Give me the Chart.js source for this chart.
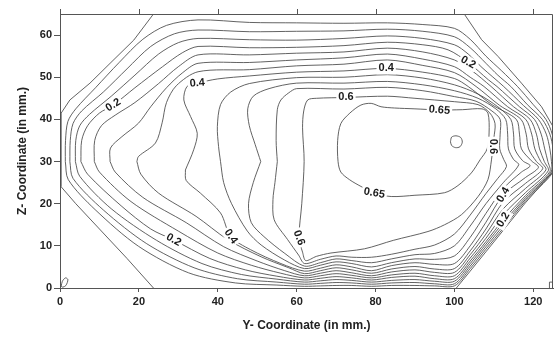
<!DOCTYPE html>
<html>
<head>
<meta charset="utf-8">
<script src="https://cdn.jsdelivr.net/npm/chart.js@4.4.1/dist/chart.umd.min.js"></script>
<style>
  body { margin: 0; background: #fff; }
  #wrap { width: 554px; height: 337px; }
</style>
</head>
<body>
<div id="wrap"><canvas id="contour" width="554" height="337"></canvas></div>
<script>
// contour lines, [y, z] in mm
var edgeLeft = [[23.7,0],[17,7],[10,14],[4,20],[0.3,24],[0.3,41.5],[2.5,44.6],[7.6,48.6],[12.7,53.3],[18.7,58.8],[23.7,65]];
var edgeTopRight = [[102.5,65],[106.9,58.9],[111.1,54.9],[117,48.6],[122.1,43],[125.5,37.5]];
var edgeBottomRight = [[100.5,0],[104,4],[108,8.6],[112.4,13.7],[118,20.2],[124.6,27.2],[125.5,28]];

var lvl005 = [[1.35,30],[1.4,35],[2,39.5],[4,42.5],[9,47.5],[15,53.5],[21,59],[27,62.3],[35,63.6],[48,63.0],[60,62.9],[72,62.8],[83,62.9],[92,62.5],[100,61.6],[104,59],[108,55],[112,51.5],[116,47.8],[120,43.5],[123.2,40],[124.8,36.5],[125.3,33],[125.2,30],[124.9,27.3],[118,20.6],[112.4,14.2],[108,9.2],[104,4.6],[100,0.5],[95,0.5],[90,0.6],[84,0.6],[79,0.4],[74,0.6],[70,0.6],[66,0.5],[62,0.4],[55,0.7],[44.5,1.2],[32.6,3.6],[19.9,9.9],[8.9,18.6],[2.1,25.7],[1.35,30]];
var lvl010 = [[2.5,30],[2.6,35],[3.3,39],[5.5,42],[11,46.5],[17,52],[23,57.3],[29,60.3],[35,61.2],[48,60.8],[60,60.9],[72,61.0],[83,61.4],[92,60.9],[100,59.6],[104,57],[108,53.3],[111,50.5],[114.3,47.8],[118.5,43.5],[122.3,40],[124.2,36.5],[125,33],[124.9,30],[124.7,27.4],[118,21.0],[112.4,14.8],[108,9.8],[104,5.2],[100,1.0],[95,1.0],[90,1.3],[84,1.2],[79,0.9],[74,1.2],[70,1.3],[66,1.1],[62,0.9],[55,1.4],[45,2.2],[34,4.8],[22,10.5],[11,18.5],[3.3,26],[2.5,30]];
var lvl015 = [[3.9,30],[4,35],[5,38.5],[7.5,41.2],[13,45.5],[19,50.5],[25,55.5],[30,58.2],[35,59.2],[48,58.9],[60,58.8],[72,59.2],[83,59.8],[92,59.2],[100,57.7],[103.5,55.5],[107,52.3],[112.5,47.8],[117.5,43.3],[121.3,40],[123.3,36.5],[124.2,33],[124.6,30],[124.5,27.5],[118,21.4],[112.4,15.5],[108,10.4],[104,5.8],[100,1.6],[95,1.6],[90,2.0],[84,1.8],[79,1.4],[74,1.8],[70,2.0],[66,1.7],[62,1.4],[55,2.1],[46,3.2],[36,5.8],[24.5,11.3],[13,18.8],[5,26.5],[3.9,30]];
var lvl020 = [[5.3,30],[5.5,35],[7,38.5],[10,41.5],[13.5,43.4],[19,47.5],[26,52.5],[31,55.8],[35,57.3],[48,57.0],[60,57.1],[72,57.5],[83,58.3],[92,57.7],[98.4,56.5],[103.5,53.5],[108.6,49.4],[110.8,47.8],[116.5,43],[120.3,40],[122,36.5],[122.9,33],[123.7,30],[124.2,27.6],[118,21.9],[112.4,16.2],[108,11.0],[104,6.4],[100,2.2],[95,2.2],[90,2.8],[84,2.5],[79,1.9],[74,2.4],[70,2.7],[66,2.3],[62,1.9],[55,2.8],[47,4.3],[38,7],[28.8,11.4],[23,14],[15.5,19.5],[7,27],[5.3,30]];
var lvl025 = [[8.7,30],[8.8,35],[10.5,38.5],[14,41],[19,44],[25,48.5],[30,52.5],[35,55.3],[48,55.3],[60,55.7],[72,56.0],[83,56.9],[92,56.0],[100,54.1],[104.5,51.5],[109.3,47.8],[115,43],[119.2,40],[120.8,36.5],[121.6,33],[122.8,30],[123.8,27.8],[118,22.6],[112.4,17.4],[108,11.8],[104,7.1],[100,2.9],[95,2.9],[90,3.5],[84,3.1],[79,2.4],[74,3.0],[70,3.4],[66,2.9],[62,2.4],[56,3.5],[48.5,5.4],[40,8.3],[30,13.5],[18,20.5],[10,27.5],[8.7,30]];
var lvl030 = [[12.7,30],[12.8,33.2],[15.7,35.9],[19.9,39.1],[23,43],[27,47.5],[31,51],[35,53.3],[48,53.5],[60,54.1],[72,54.6],[83,55.5],[92,54.3],[100,52.5],[104,50],[107.5,47.8],[113.5,43],[118.1,40],[119.6,36.5],[120.4,33],[121.9,30],[123.2,28],[118,23.6],[112.4,18.8],[108,12.8],[104,7.9],[100,3.7],[95,3.7],[90,4.3],[84,3.8],[79,2.9],[74,3.6],[70,4.1],[66,3.5],[62,2.9],[57,4.1],[50,6.4],[41.5,9.8],[32,15.5],[21,21.5],[14,27.5],[12.7,30]];
var lvl035 = [[19.5,30],[19.9,31.2],[24.2,34.4],[25.9,39.2],[27,44],[29.5,48],[35,51.3],[48,51.8],[60,52.7],[72,53.1],[83,54.1],[92,52.8],[100,51.1],[105.5,47.8],[111.5,43.3],[116.9,40],[118.2,36.5],[118.8,33],[120.8,30],[122.4,28.3],[118,24.8],[112.4,20.4],[108,14],[104,8.8],[100,4.6],[95,4.5],[90,5.1],[84,4.5],[79,3.5],[74,4.3],[70,4.8],[66,4.1],[62,3.4],[58,4.8],[51,7.4],[42.5,11.5],[34.5,17],[25,22.5],[20.5,27],[19.5,30]];
var lvl040 = [[31.8,28],[33.9,32.8],[34.8,36.7],[33.1,40.7],[31.4,44.6],[32.2,47.8],[34.8,48.6],[40,49.6],[48,50.3],[60,51.2],[72,51.5],[82.7,52.1],[92,51.2],[100,49.7],[103.5,47.8],[109.5,43.5],[115.7,40],[116.5,36.5],[117,33],[119.5,30.2],[121.3,28.6],[118,26.2],[112.4,22.1],[108,15.6],[104,10],[100,5.8],[95,5.6],[90,6.0],[84,5.3],[79,4.1],[74,5.0],[70,5.5],[66,4.7],[62,4.0],[56,5.8],[48.3,9.1],[43.3,12.2],[40.7,17.8],[35.6,22.5],[32,25.5],[31.8,28]];
var lvl045 = [[40.7,30],[40.2,33.6],[39.9,38.3],[40.7,43.5],[43.3,46.5],[48,48.5],[60,49.9],[72,50.0],[83,50.6],[92,49.8],[100,48.2],[106,46],[111,43],[114.3,40],[115,36.5],[115.3,33],[117.3,30.2],[119.2,29],[117,27.5],[112.4,23.6],[108,17.7],[104,12],[100,7.6],[95,6.8],[90,6.9],[84,6.0],[79,5.0],[74,5.8],[70,6.2],[66,5.4],[62,4.6],[57,6.6],[51,10.2],[47.5,13.5],[43.5,20],[41.5,25],[40.7,30]];
var lvl050 = [[50.9,30],[49.5,34],[48,38.5],[47.6,42.5],[49,45.5],[53,47.3],[60,48.6],[72,48.6],[83,49.0],[92,48.2],[100,46.8],[106,45],[110.5,42.5],[113,40],[113.5,36.5],[113.7,33],[115,30.5],[116.3,29.2],[112.4,25],[108,20],[104,14.7],[100,10],[95,8.2],[90,7.9],[84,6.9],[79,6.0],[74,6.5],[70,6.9],[66,6.0],[62,5.2],[57,8.2],[51.7,12.2],[48.5,15.5],[47.8,20],[49,25],[50.9,30]];
var lvl055 = [[55.1,30],[54.8,35],[55.1,42.3],[56,44.6],[58,46.3],[60,47.3],[72,47.2],[83,47.6],[92,46.8],[100,45.4],[105.5,44.3],[109.5,42],[111.6,40],[111.6,36.5],[111.5,33],[112.5,30.5],[113.2,28.8],[111,26],[108,22.4],[104,17.3],[100,12.8],[95,10.2],[90,9.2],[84,8.0],[79,7.3],[74,7.3],[70,7.6],[66,6.8],[62,5.8],[60.5,7.8],[57.7,11.5],[54.3,16.2],[54,21],[54.5,25],[55.1,30]];
var lvl060 = [[100,44.2],[106,43.5],[109,41.5],[110.3,39],[110,35.5],[109.8,33.6],[109.4,30.4],[108.5,25.7],[106,21.7],[101.8,17.4],[97.5,15],[93.3,13.4],[84.5,11.3],[77.2,9.3],[68.7,8.3],[65,7.5],[62.3,6.5],[61.5,8.5],[60.6,11.9],[61.3,20],[61.9,30],[61.5,38],[61.8,42],[62.8,44.6],[65,45],[72.5,45.2],[83,45.5],[90,45],[100,44.2]];
var lvl065 = [[96.2,42.2],[102,42.3],[107,42.5],[108.5,41.5],[108.8,37],[108.3,33],[106.5,30.4],[104.3,27.3],[100.9,24.3],[97.5,22.6],[90,22],[84,21.7],[79.7,22.5],[76.3,24.1],[73.4,25.7],[71.2,27.5],[70.5,30],[70.4,35],[71.2,39],[73.5,41.5],[76.3,43.4],[78.9,43.8],[81.4,43],[84.8,42.7],[90,42.5],[96.2,42.2]];
var lvl070 = [[99,34.7],[99.3,35.8],[100.4,36.1],[101.6,35.7],[102,34.6],[101.4,33.5],[100.3,33.3],[99.3,33.8],[99,34.7]];
var originLoop = [[0.3,0.4],[0.6,1.6],[1.4,2.4],[2,2],[1.5,0.6],[0.7,0.2],[0.3,0.4]];
var cornerMark = [[124.1,0],[124.1,1.4],[125.4,1.4]];

var curves = [edgeLeft, edgeTopRight, edgeBottomRight, lvl005, lvl010, lvl015, lvl020, lvl025, lvl030, lvl035, lvl040, lvl045, lvl050, lvl055, lvl060, lvl065, lvl070, originLoop, cornerMark];

// labels on the lines
var labelText  = ['0.2', '0.4', '0.4', '0.2', '0.6', '0.65', '0.6', '0.65', '0.2', '0.4', '0.6', '0.4', '0.2'];
var labelY     = [13.5, 34.8, 82.7, 103.5, 72.5, 96.2, 109.8, 79.7, 28.8, 43.3, 60.6, 112.4, 112.4];
var labelZ     = [43.4, 48.6, 52.1, 53.5, 45.2, 42.2, 33.6, 22.5, 11.4, 12.2, 11.9, 22.1, 16.2];
var labelAngle = [-32, -5, 0, 30, 0, 5, 90, 10, 30, 55, 70, -60, -60];

var xTicks = [0, 20, 40, 60, 80, 100, 120];
var yTicks = [0, 10, 20, 30, 40, 50, 60];

var lineColor = '#474747';
var datasets = curves.map(function(c, i) {
    return {
        data: c.map(function(p) { return {x: p[0], y: p[1]}; }),
        showLine: true,
        pointRadius: 0,
        borderColor: lineColor,
        borderWidth: 0.85,
        tension: i < 3 || c === cornerMark ? 0 : 0.3,
        fill: false
    };
});

var labelPlugin = {
    id: 'labels',
    afterDatasetsDraw: function(chart) {
        var ctx = chart.ctx;
        var xs = chart.scales.x, ys = chart.scales.y;
        ctx.save();
        ctx.font = 'bold 11px "Liberation Sans", Arial, sans-serif';
        ctx.textAlign = 'center';
        ctx.textBaseline = 'middle';
        for (var i = 0; i < labelText.length; i++) {
            var px = xs.getPixelForValue(labelY[i]);
            var py = ys.getPixelForValue(labelZ[i]);
            ctx.save();
            ctx.translate(px, py);
            ctx.rotate(labelAngle[i] * Math.PI / 180);
            var w = ctx.measureText(labelText[i]).width;
            ctx.fillStyle = '#fff';
            ctx.fillRect(-w / 2 - 2, -6, w + 4, 12);
            ctx.fillStyle = '#1a1a1a';
            ctx.fillText(labelText[i], 0, 0);
            ctx.restore();
        }
        ctx.restore();
    },
    afterDraw: function(chart) {
        // box frame with outward ticks on the top edge
        var ctx = chart.ctx, a = chart.chartArea, xs = chart.scales.x;
        ctx.save();
        ctx.strokeStyle = '#555';
        ctx.lineWidth = 1;
        ctx.beginPath();
        ctx.moveTo(a.left, a.top + 0.5);
        ctx.lineTo(a.right - 0.5, a.top + 0.5);
        ctx.lineTo(a.right - 0.5, a.bottom);
        xTicks.forEach(function(t) {
            var px = Math.round(xs.getPixelForValue(t)) + 0.5;
            ctx.moveTo(px, a.top);
            ctx.lineTo(px, a.top - 5);
        });
        ctx.stroke();
        ctx.restore();
    }
};

var tickFont = {family: '"Liberation Sans", Arial, sans-serif', size: 11, weight: 'bold'};

new Chart(document.getElementById('contour'), {
    type: 'scatter',
    data: {datasets: datasets},
    options: {
        responsive: false,
        animation: false,
        layout: {padding: {top: 14, right: 1, left: 0, bottom: 0}},
        plugins: {legend: {display: false}, tooltip: {enabled: false}},
        scales: {
            x: {
                type: 'linear', min: 0, max: 125,
                afterBuildTicks: function(s) { s.ticks = xTicks.map(function(v) { return {value: v}; }); },
                afterFit: function(s) { s.height = 49; },
                ticks: {font: tickFont, color: '#222', padding: 3, maxRotation: 0},
                grid: {drawOnChartArea: false, tickLength: 4, color: '#555'},
                border: {color: '#555'},
                title: {display: true, text: 'Y- Coordinate (in mm.)', color: '#222',
                        font: {family: '"Liberation Sans", Arial, sans-serif', size: 12, weight: 'bold'},
                        padding: {top: 4, bottom: 4}}
            },
            y: {
                type: 'linear', min: 0, max: 65,
                afterBuildTicks: function(s) { s.ticks = yTicks.map(function(v) { return {value: v}; }); },
                afterFit: function(s) { s.width = 60; },
                ticks: {font: tickFont, color: '#222', padding: 2},
                grid: {drawOnChartArea: false, tickLength: 6, color: '#555'},
                border: {color: '#555'},
                title: {display: true, text: 'Z- Coordinate (in mm.)', color: '#222',
                        font: {family: '"Liberation Sans", Arial, sans-serif', size: 12, weight: 'bold'},
                        padding: {top: 15, bottom: 4}}
            }
        }
    },
    plugins: [labelPlugin]
});
</script>
</body>
</html>
